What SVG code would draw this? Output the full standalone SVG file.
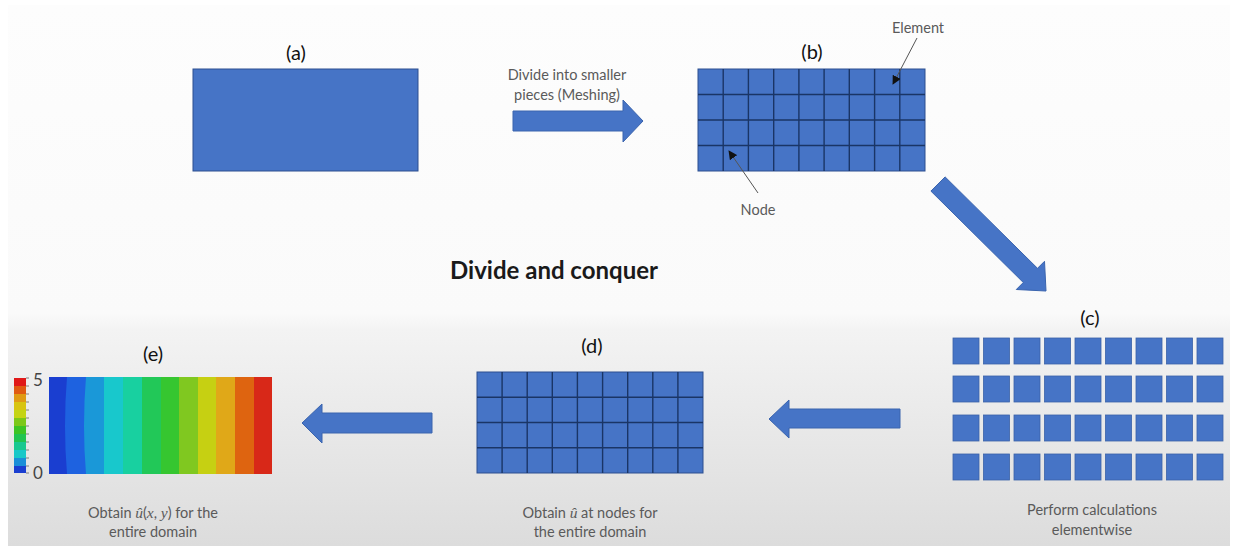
<svg xmlns="http://www.w3.org/2000/svg" width="1234" height="546" viewBox="0 0 1234 546">
<defs>
<linearGradient id="bg" x1="0" y1="0" x2="0" y2="1">
<stop offset="0" stop-color="#fdfdfd"/>
<stop offset="0.57" stop-color="#fafafa"/>
<stop offset="0.6" stop-color="#f3f3f3"/>
<stop offset="1" stop-color="#dcdcdc"/>
</linearGradient>
<marker id="ah" viewBox="0 0 10 10" refX="9" refY="5" markerWidth="9" markerHeight="9" orient="auto" markerUnits="userSpaceOnUse">
<path d="M0,0 L10,5 L0,10 z" fill="#111"/>
</marker>
<style>
.lbl{font-family:"Lato","Open Sans",sans-serif;font-size:20px;fill:#111;text-anchor:middle}
.cap{font-family:"Lato","Open Sans",sans-serif;font-size:14.5px;fill:#5a5a5a;text-anchor:middle}
.title{font-family:"Lato","Open Sans",sans-serif;font-size:24px;font-weight:bold;fill:#1a1a1a;text-anchor:middle}
.m{font-family:"Liberation Serif",serif;font-style:italic;font-size:15.5px}
.blue{fill:#4674c6;stroke:#2c4f8f;stroke-width:1}
.grid{stroke:#1a3566;stroke-width:1.4;fill:none}
.sq{fill:#4674c6;stroke:#3a62a8;stroke-width:0.8}
.arr{fill:#4674c6;stroke:#3a64ae;stroke-width:1}
.lead{stroke:#555;stroke-width:1;fill:none;marker-end:url(#ah)}
</style>
</defs>
<rect width="1234" height="546" fill="#ffffff"/>
<rect x="8" y="5" width="1222" height="541" fill="url(#bg)"/>

<text class="title" x="554" y="279">Divide and conquer</text>

<g id="node-a">
<text class="lbl" x="296" y="60">(a)</text>
<rect class="blue" x="193" y="69" width="225" height="102"/>
</g>

<g id="node-b">
<text class="lbl" x="812" y="59">(b)</text>
<rect class="blue" x="698" y="69" width="227" height="102"/>
<path class="grid" d="M723.2,69V171M748.4,69V171M773.7,69V171M798.9,69V171M824.1,69V171M849.3,69V171M874.6,69V171M899.8,69V171M698,94.5H925M698,120H925M698,145.5H925"/>
<text class="cap" x="918" y="33">Element</text>
<path class="lead" d="M917,38 L893,84"/>
<text class="cap" x="758" y="215">Node</text>
<path class="lead" d="M758,193 L729,151"/>
</g>

<g id="node-c">
<text class="lbl" x="1090" y="325">(c)</text>
<g>
<rect class="sq" x="953" y="338" width="26" height="26"/><rect class="sq" x="983.5" y="338" width="26" height="26"/><rect class="sq" x="1014" y="338" width="26" height="26"/><rect class="sq" x="1044.5" y="338" width="26" height="26"/><rect class="sq" x="1075" y="338" width="26" height="26"/><rect class="sq" x="1105.5" y="338" width="26" height="26"/><rect class="sq" x="1136" y="338" width="26" height="26"/><rect class="sq" x="1166.5" y="338" width="26" height="26"/><rect class="sq" x="1197" y="338" width="26" height="26"/>
<rect class="sq" x="953" y="376" width="26" height="26"/><rect class="sq" x="983.5" y="376" width="26" height="26"/><rect class="sq" x="1014" y="376" width="26" height="26"/><rect class="sq" x="1044.5" y="376" width="26" height="26"/><rect class="sq" x="1075" y="376" width="26" height="26"/><rect class="sq" x="1105.5" y="376" width="26" height="26"/><rect class="sq" x="1136" y="376" width="26" height="26"/><rect class="sq" x="1166.5" y="376" width="26" height="26"/><rect class="sq" x="1197" y="376" width="26" height="26"/>
<rect class="sq" x="953" y="415" width="26" height="26"/><rect class="sq" x="983.5" y="415" width="26" height="26"/><rect class="sq" x="1014" y="415" width="26" height="26"/><rect class="sq" x="1044.5" y="415" width="26" height="26"/><rect class="sq" x="1075" y="415" width="26" height="26"/><rect class="sq" x="1105.5" y="415" width="26" height="26"/><rect class="sq" x="1136" y="415" width="26" height="26"/><rect class="sq" x="1166.5" y="415" width="26" height="26"/><rect class="sq" x="1197" y="415" width="26" height="26"/>
<rect class="sq" x="953" y="454" width="26" height="26"/><rect class="sq" x="983.5" y="454" width="26" height="26"/><rect class="sq" x="1014" y="454" width="26" height="26"/><rect class="sq" x="1044.5" y="454" width="26" height="26"/><rect class="sq" x="1075" y="454" width="26" height="26"/><rect class="sq" x="1105.5" y="454" width="26" height="26"/><rect class="sq" x="1136" y="454" width="26" height="26"/><rect class="sq" x="1166.5" y="454" width="26" height="26"/><rect class="sq" x="1197" y="454" width="26" height="26"/>
</g>
<text class="cap" x="1092" y="515">Perform calculations</text>
<text class="cap" x="1092" y="535">elementwise</text>
</g>

<g id="node-d">
<text class="lbl" x="592" y="353">(d)</text>
<rect class="blue" x="477" y="372" width="226" height="101"/>
<path class="grid" d="M502.1,372V473M527.2,372V473M552.3,372V473M577.4,372V473M602.6,372V473M627.7,372V473M652.8,372V473M677.9,372V473M477,397.25H703M477,422.5H703M477,447.75H703"/>
<text class="cap" x="590" y="518">Obtain <tspan class="m">û</tspan> at nodes for</text>
<text class="cap" x="590" y="537">the entire domain</text>
</g>

<g id="node-e">
<text class="lbl" x="153" y="361">(e)</text>
<g id="colorbar">
<rect x="14" y="378" width="12" height="8" fill="#e01818"/>
<rect x="14" y="386" width="12" height="8" fill="#e05a12"/>
<rect x="14" y="394" width="12" height="8" fill="#e09a14"/>
<rect x="14" y="402" width="12" height="8" fill="#d8c410"/>
<rect x="14" y="410" width="12" height="8" fill="#c4d414"/>
<rect x="14" y="418" width="12" height="8" fill="#7cc818"/>
<rect x="14" y="426" width="12" height="8" fill="#3cc424"/>
<rect x="14" y="434" width="12" height="8" fill="#20c450"/>
<rect x="14" y="442" width="12" height="8" fill="#18c890"/>
<rect x="14" y="450" width="12" height="8" fill="#18c8c8"/>
<rect x="14" y="458" width="12" height="8" fill="#1a8ed8"/>
<rect x="14" y="466" width="12" height="7" fill="#1a3ed0"/>
<path d="M26,378h3M26,386h3M26,394h3M26,402h3M26,410h3M26,418h3M26,426h3M26,434h3M26,442h3M26,450h3M26,458h3M26,466h3M26,473h3" stroke="#666" stroke-width="0.8"/>
<text x="33" y="386" font-family="Lato,'Open Sans',sans-serif" font-size="17" fill="#444">5</text>
<text x="33" y="479" font-family="Lato,'Open Sans',sans-serif" font-size="17" fill="#444">0</text>
</g>
<g id="contour">
<rect x="49" y="377" width="223" height="97" fill="#1a3ed0"/>
<path d="M67,377 Q63,425.5 67,474 H272 V377 Z" fill="#1e62e0"/>
<path d="M86,377 Q82,425.5 86,474 H272 V377 Z" fill="#1a98d8"/>
<rect x="104" y="377" width="168" height="97" fill="#18c8cc"/>
<rect x="123" y="377" width="149" height="97" fill="#18d0a0"/>
<rect x="142" y="377" width="130" height="97" fill="#22c858"/>
<rect x="161" y="377" width="111" height="97" fill="#36c630"/>
<rect x="179" y="377" width="93" height="97" fill="#80c820"/>
<rect x="198" y="377" width="74" height="97" fill="#c6d012"/>
<rect x="216" y="377" width="56" height="97" fill="#e0a818"/>
<rect x="235" y="377" width="37" height="97" fill="#de6410"/>
<rect x="254" y="377" width="18" height="97" fill="#d82818"/>
</g>
<text class="cap" x="153" y="518">Obtain <tspan class="m">û</tspan>(<tspan class="m">x</tspan>, <tspan class="m">y</tspan>) for the</text>
<text class="cap" x="153" y="537">entire domain</text>
</g>

<g id="connectors">
<text class="cap" x="567" y="80">Divide into smaller</text>
<text class="cap" x="567" y="100">pieces (Meshing)</text>
<path class="arr" d="M513,111 H623 V100 L643,121 L623,142 V131 H513 Z"/>
<path class="arr" d="M945.1,176.9 L1037.5,268.3 L1044.5,261.3 L1046,291 L1016.3,289.5 L1023.3,282.5 L930.9,191.1 Z"/>
<path class="arr" d="M900,409 H789 V400 L769,419 L789,438 V428 H900 Z"/>
<path class="arr" d="M432,413 H322 V404 L302,423 L322,443 V433 H432 Z"/>
</g>
</svg>
